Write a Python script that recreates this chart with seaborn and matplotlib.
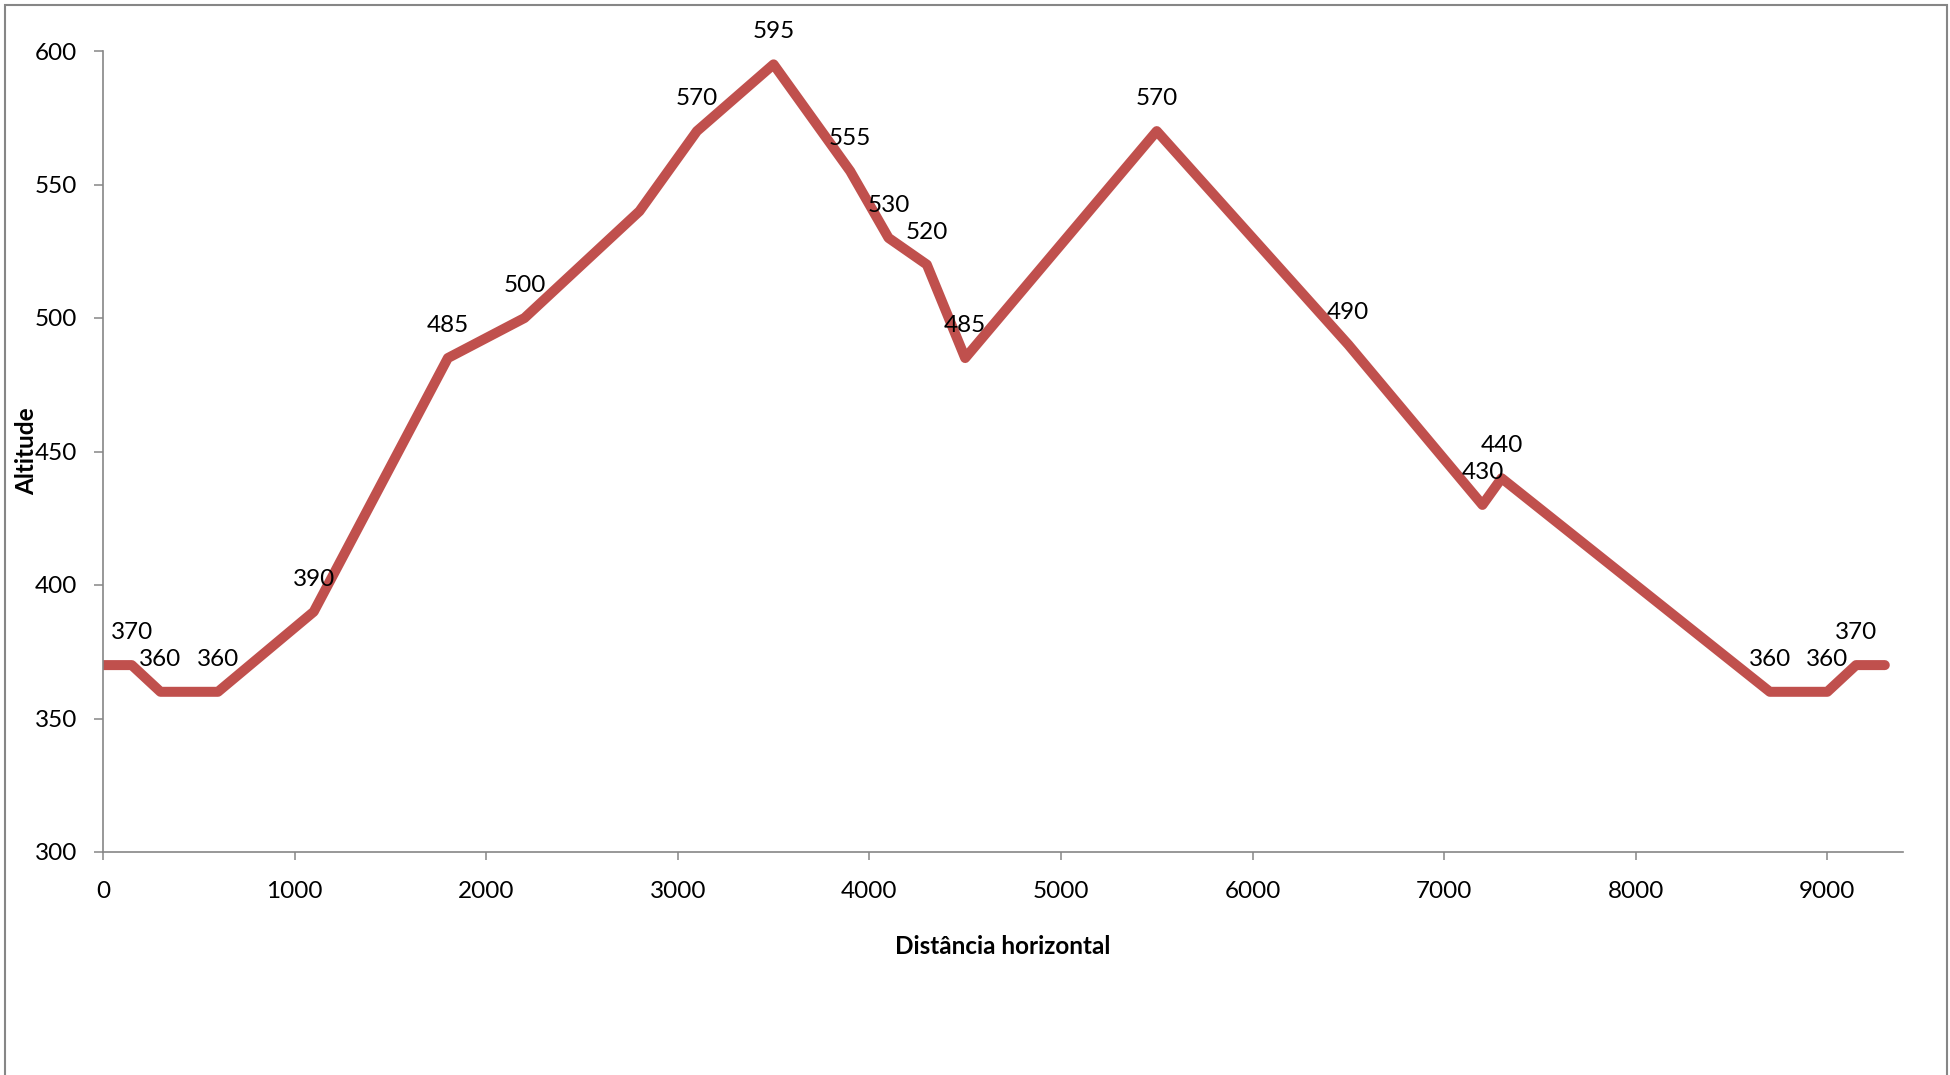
import matplotlib
matplotlib.use("Agg")
import matplotlib.pyplot as plt
from matplotlib.patches import Rectangle
import seaborn as sns
import pandas as pd

# ---- data ----
distance = [0, 150, 300, 600, 1100, 1800, 2200, 2800, 3100, 3500, 3900, 4100,
            4300, 4500, 5500, 6500, 7200, 7300, 8700, 9000, 9150, 9300]
altitude = [370, 370, 360, 360, 390, 485, 500, 540, 570, 595, 555, 530,
            520, 485, 570, 490, 430, 440, 360, 360, 370, 370]
point_labels = ["", "370", "360", "360", "390", "485", "500", "", "570", "595", "555", "530",
                "520", "485", "570", "490", "430", "440", "360", "360", "370", ""]
x_ticks = [0, 1000, 2000, 3000, 4000, 5000, 6000, 7000, 8000, 9000]
y_ticks = [300, 350, 400, 450, 500, 550, 600]
x_title = "Distância horizontal"
y_title = "Altitude"

sns.set_theme(style="white")
plt.rcParams["font.family"] = ["Lato", "DejaVu Sans"]

W, H = 1950, 1075
fig = plt.figure(figsize=(W / 100, H / 100), dpi=100)
fig.patch.set_facecolor("white")

left, right, top, bottom = 103, 1903, 51, 852
ax = fig.add_axes([left / W, (H - bottom) / H, (right - left) / W, (bottom - top) / H])
ax.set_facecolor("white")

df = pd.DataFrame({"Distância": distance, "Altitude": altitude})
line_color = "#C0504D"
sns.lineplot(data=df, x="Distância", y="Altitude", sort=False, ax=ax,
             color=line_color, linewidth=7.2, estimator=None)
for ln in ax.lines:
    ln.set_solid_capstyle("round")
    ln.set_solid_joinstyle("round")

fs = 17.5
for xv, yv, lab in zip(distance, altitude, point_labels):
    if lab:
        ax.annotate(lab, (xv, yv), xytext=(0, 18.7), textcoords="offset points",
                    ha="center", va="baseline", fontsize=fs, color="black")

ax.set_xlim(0, 9395)
ax.set_ylim(300, 600)
ax.set_xticks(x_ticks)
ax.set_yticks(y_ticks)
ax.set_xticklabels([str(t) for t in x_ticks])
ax.set_yticklabels([str(t) for t in y_ticks])

axis_gray = "#868686"
for s in ["top", "right"]:
    ax.spines[s].set_visible(False)
for s in ["left", "bottom"]:
    ax.spines[s].set_visible(True)
    ax.spines[s].set_color(axis_gray)
    ax.spines[s].set_linewidth(1.2)

ax.tick_params(axis="y", which="major", direction="out", length=6.5, width=1.1,
               color=axis_gray, labelsize=fs, labelcolor="black", pad=12, left=True)
ax.tick_params(axis="x", which="major", direction="out", length=6, width=1.1,
               color=axis_gray, labelsize=fs, labelcolor="black", pad=15, bottom=True)
ax.grid(False)

ax.set_xlabel(x_title, fontsize=fs, fontweight="bold", color="black")
ax.set_ylabel(y_title, fontsize=fs, fontweight="bold", color="black")
ax.xaxis.set_label_coords(((left + right) / 2 - left) / (right - left), (bottom - 947) / (bottom - top))
ax.xaxis.label.set_va("center")
ax.yaxis.set_label_coords((27 - left) / (right - left), 0.5)
ax.yaxis.label.set_rotation_mode("default")
ax.yaxis.label.set_va("center")
ax.yaxis.label.set_ha("center")

# chart-area border (bottom edge falls outside the picture)
fig.patches.append(Rectangle((5 / W, -0.05), (1947 - 5) / W, (H - 5) / H + 0.05,
                             transform=fig.transFigure, fill=False,
                             edgecolor=axis_gray, linewidth=1.5, clip_on=False))

fig.savefig("out.png", dpi=100, facecolor="white")
